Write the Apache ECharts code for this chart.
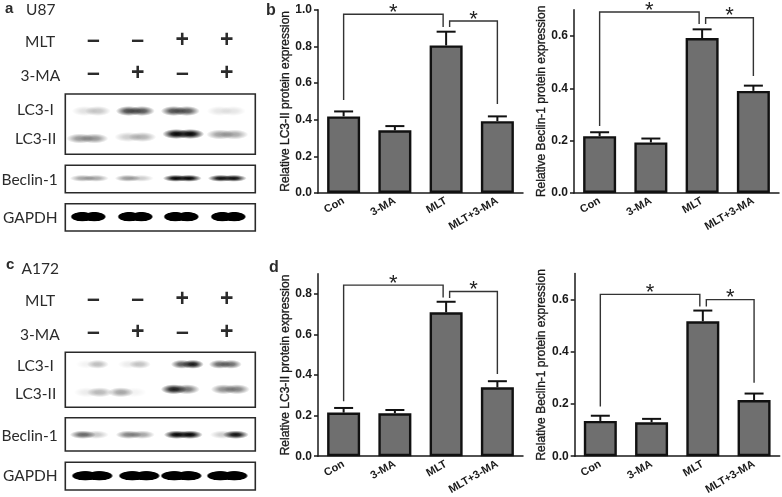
<!DOCTYPE html>
<html><head><meta charset="utf-8">
<style>html,body{margin:0;padding:0;background:#fff}#c{width:782px;height:497px}</style>
<script src="https://cdn.jsdelivr.net/npm/echarts@6/dist/echarts.min.js"></script>
</head><body><div id="c"></div>
<script>
// ---- data ----
const categories = ['Con', '3-MA', 'MLT', 'MLT+3-MA'];
const lc3U87 = [0.418, 0.342, 0.805, 0.392];
const lc3U87Upper = [0.445, 0.365, 0.88, 0.418];
const becU87 = [0.217, 0.193, 0.592, 0.39];
const becU87Upper = [0.232, 0.208, 0.625, 0.41];
const lc3A172 = [0.215, 0.212, 0.71, 0.34];
const lc3A172Upper = [0.238, 0.228, 0.762, 0.37];
const becA172 = [0.135, 0.13, 0.517, 0.215];
const becA172Upper = [0.155, 0.143, 0.558, 0.24];
// brackets: [from category, from value, top value, to category, to value]
const lc3U87Brackets = [[0, 0.507, 0.975, 2, 0.905], [2, 0.905, 0.938, 3, 0.485]];
const becU87Brackets = [[0, 0.256, 0.691, 2, 0.645], [2, 0.645, 0.669, 3, 0.447]];
const lc3A172Brackets = [[0, 0.271, 0.844, 2, 0.783], [2, 0.78, 0.813, 3, 0.406]];
const becA172Brackets = [[0, 0.19, 0.62, 2, 0.574], [2, 0.574, 0.6, 3, 0.281]];
const lc3Ticks = [0, 0.2, 0.4, 0.6, 0.8];
const lc3TicksFull = [0, 0.2, 0.4, 0.6, 0.8, 1.0];
const becTicks = [0, 0.2, 0.4, 0.6];
const mltSigns = ['–', '–', '+', '+'];
const maSigns = ['–', '+', '–', '+'];
// blot band strengths: [left lobe, right lobe] per lane
const u87LC3I = [[0.12, 0.22], [0.72, 0.68], [0.7, 0.66], [0.1, 0.1]];
const u87LC3II = [[0.42, 0.42], [0.2, 0.3], [1, 1], [0.38, 0.34]];
const u87Beclin = [[0.36, 0.34], [0.4, 0.2], [1, 1], [0.95, 0.95]];
const u87Gapdh = [[1, 1], [1, 1], [1, 1], [1, 1]];
const a172LC3I = [[0.05, 0.26], [0.08, 0.24], [0.65, 0.92], [0.6, 0.58]];
const a172LC3II = [[0.08, 0.28], [0.36, 0.05], [0.9, 0.55], [0.45, 0.5]];
const a172Beclin = [[0.6, 0.22], [0.5, 0.36], [1, 1], [0.2, 0.95]];
const a172Gapdh = [[1, 1], [1, 1], [1, 1], [1, 1]];

// ---- layout ----
const FONT = '"Liberation Sans", Arial, sans-serif';
const LABEL_FONT = 'Lato, "Open Sans", sans-serif';
const ink = '#1a1a1a';
const barPanels = [
  {left: 318, top: 9.7, h: 183.3, max: 1.0, ticks: lc3TicksFull, v: lc3U87, up: lc3U87Upper, br: lc3U87Brackets, name: 'Relative LC3-II protein expression'},
  {left: 574, top: 9.7, h: 183.3, max: 0.7, ticks: becTicks, v: becU87, up: becU87Upper, br: becU87Brackets, name: 'Relative Beclin-1 protein expression'},
  {left: 318, top: 273.8, h: 184.5, max: 0.9, ticks: lc3Ticks, v: lc3A172, up: lc3A172Upper, br: lc3A172Brackets, name: 'Relative LC3-II protein expression'},
  {left: 574.7, top: 273.5, h: 184.8, max: 0.7, ticks: becTicks, v: becA172, up: becA172Upper, br: becA172Brackets, name: 'Relative Beclin-1 protein expression'}
];
const boxLeft = 65.3, boxW = 190;
const blotRows = [
  {top: 94, h: 60.3, rows: [
    {d: u87LC3I, y: 17, x: [26, 70, 115, 161], rx: 13, ry: 5},
    {d: u87LC3II, y: 42, x: [22, 70, 118, 162], rx: 14, ry: 5, yo: [2.5, 1, -2, -1.5]}]},
  {top: 165.3, h: 27.4, rows: [{d: u87Beclin, y: 13, x: [24, 69, 117, 162], rx: 13, ry: 3.5}]},
  {top: 203.7, h: 27.3, rows: [{d: u87Gapdh, y: 13, x: [23, 70, 116, 163], rx: 12, ry: 5, solid: 1}]},
  {top: 352.3, h: 55, rows: [
    {d: a172LC3I, y: 12, x: [27, 69, 122, 160], rx: 11, ry: 4.5},
    {d: a172LC3II, y: 39, x: [28, 62, 115, 165], rx: 13, ry: 5, yo: [1, 1, -2, -2]}]},
  {top: 417.7, h: 33.3, rows: [{d: a172Beclin, y: 17, x: [24, 70, 118, 164], rx: 13, ry: 4.2}]},
  {top: 462.3, h: 27.7, rows: [{d: a172Gapdh, y: 13.5, x: [27, 74, 116, 162], rx: 14, ry: 5, solid: 1}]}
];

const grids = [], xAxes = [], yAxes = [], series = [];
barPanels.forEach((p) => {
  const i = grids.length;
  grids.push({left: p.left, top: p.top, width: 205, height: p.h});
  xAxes.push({type: 'category', gridIndex: i, data: categories,
    axisLine: {lineStyle: {color: ink, width: 1.5}},
    axisTick: {alignWithLabel: true, length: 4, lineStyle: {color: ink, width: 1.5}},
    axisLabel: {rotate: 30, margin: 7, interval: 0, color: ink, fontFamily: FONT, fontWeight: 'bold', fontSize: 11}});
  yAxes.push({type: 'value', gridIndex: i, min: 0, max: p.max,
    name: p.name, nameLocation: 'middle', nameGap: 25, nameRotate: 90,
    nameTextStyle: {color: ink, fontFamily: FONT, fontSize: 12, textBorderColor: ink, textBorderWidth: 0.35},
    splitLine: {show: false},
    axisLine: {show: true, lineStyle: {color: ink, width: 1.5}},
    axisTick: {show: true, length: 4, customValues: p.ticks, lineStyle: {color: ink, width: 1.5}},
    axisLabel: {margin: 6, customValues: p.ticks, color: ink, fontFamily: FONT, fontWeight: 'bold', fontSize: 12,
      formatter: (v) => v.toFixed(1)}});
  series.push({type: 'custom', xAxisIndex: i, yAxisIndex: i, z: 1, silent: true,
    data: p.up.map((u, k) => [k, p.v[k], u]),
    renderItem: (params, api) => {
      const a = api.coord([api.value(0), api.value(1)]);
      const b = api.coord([api.value(0), api.value(2)]);
      const st = {stroke: '#111', lineWidth: 2, fill: null};
      return {type: 'group', children: [
        {type: 'line', shape: {x1: a[0], y1: a[1], x2: b[0], y2: b[1]}, style: st},
        {type: 'line', shape: {x1: b[0] - 9.5, y1: b[1], x2: b[0] + 9.5, y2: b[1]}, style: st}]};
    }});
  series.push({type: 'bar', xAxisIndex: i, yAxisIndex: i, z: 2, data: p.v, barWidth: 33, silent: true,
    itemStyle: {color: '#6f6f6f', borderColor: '#111', borderWidth: 2.4}});
  series.push({type: 'custom', xAxisIndex: i, yAxisIndex: i, z: 3, silent: true, clip: false,
    data: p.br,
    renderItem: (params, api) => {
      const c0 = api.value(0), c1 = api.value(3);
      const s = api.coord([c0, api.value(1)]), t = api.coord([c0, api.value(2)]), e = api.coord([c1, api.value(4)]);
      const x0 = s[0] + (c0 === 2 ? 3.5 : 0), x1 = e[0] + (c1 === 2 ? -3 : 0);
      return {type: 'group', children: [
        {type: 'polyline', shape: {points: [[x0, s[1]], [x0, t[1]], [x1, t[1]], [x1, e[1]]]},
          style: {stroke: '#333', lineWidth: 1.4, fill: null}},
        {type: 'text', style: {text: '*', x: (x0 + x1) / 2, y: t[1] - 1.5, align: 'center', verticalAlign: 'middle',
          font: '22px ' + FONT, fill: '#222'}}]};
    }});
});
blotRows.forEach((b) => {
  const i = grids.length;
  grids.push({left: boxLeft, top: b.top, width: boxW, height: b.h, show: true, borderColor: '#2a2a2a', borderWidth: 1.6, backgroundColor: '#fff'});
  xAxes.push({type: 'value', gridIndex: i, min: 0, max: boxW, show: false});
  yAxes.push({type: 'value', gridIndex: i, min: 0, max: b.h, inverse: true, show: false});
  b.rows.forEach((r) => {
    const items = [];
    r.d.forEach((lobes, lane) => {
      const yy = r.y + (r.yo ? r.yo[lane] : 0);
      items.push([r.x[lane] - r.rx * 0.5, yy, lobes[0]]);
      items.push([r.x[lane] + r.rx * 0.5, yy, lobes[1]]);
    });
    series.push({type: 'custom', xAxisIndex: i, yAxisIndex: i, silent: true, data: items, clip: true,
      renderItem: (params, api) => {
        const c = api.coord([api.value(0), api.value(1)]);
        const k = api.value(2);
        const mid = r.solid ? 0.85 : 0.35;
        return {type: 'circle', x: c[0], y: c[1], scaleX: r.rx / r.ry, scaleY: 1,
          shape: {cx: 0, cy: 0, r: r.ry},
          style: {fill: new echarts.graphic.RadialGradient(0.5, 0.5, 0.5, [
            {offset: 0, color: `rgba(0,0,0,${k})`},
            {offset: mid, color: `rgba(0,0,0,${r.solid ? 1 : k * 0.85})`},
            {offset: 1, color: 'rgba(0,0,0,0)'}])}};
      }});
  });
});

function txt(s, x, y, font, align) {
  return {type: 'text', silent: true, style: {text: s, x: x, y: y, font: font, fill: '#2b2b2b', align: align || 'left', verticalAlign: 'middle'}};
}
const L = '15.5px ' + LABEL_FONT, P = 'bold 15px ' + FONT, S = 'bold 23px ' + FONT;
const signX = [93.3, 137.7, 182.3, 226.7];
const gfx = [
  txt('a', 5, 9, P), txt('U87', 26, 9.5, L),
  txt('c', 6, 265, P), txt('A172', 21.5, 268.5, L),
  txt('b', 266, 11, 'bold 16px ' + FONT), txt('d', 269, 268, 'bold 16px ' + FONT),
  txt('MLT', 25, 41.5, L), txt('3-MA', 20.5, 75.5, L),
  txt('MLT', 25, 300.5, L), txt('3-MA', 20, 334.5, L),
  txt('LC3-I', 17, 110, L), txt('LC3-II', 15, 139, L), txt('Beclin-1', 1.5, 180, L), txt('GAPDH', 3, 218, L),
  txt('LC3-I', 17, 366, L), txt('LC3-II', 15, 394, L), txt('Beclin-1', 1.5, 436, L), txt('GAPDH', 3, 476, L)
];
[[mltSigns, 41], [maSigns, 73.5], [mltSigns, 299.5], [maSigns, 332.5]].forEach(([arr, y]) => {
  arr.forEach((s, k) => gfx.push(txt(s, signX[k], y, S, 'center')));
});

const chart = echarts.init(document.getElementById('c'), null, {renderer: 'canvas'});
chart.setOption({animation: false, backgroundColor: '#fff', grid: grids, xAxis: xAxes, yAxis: yAxes, series: series, graphic: gfx});
</script></body></html>
